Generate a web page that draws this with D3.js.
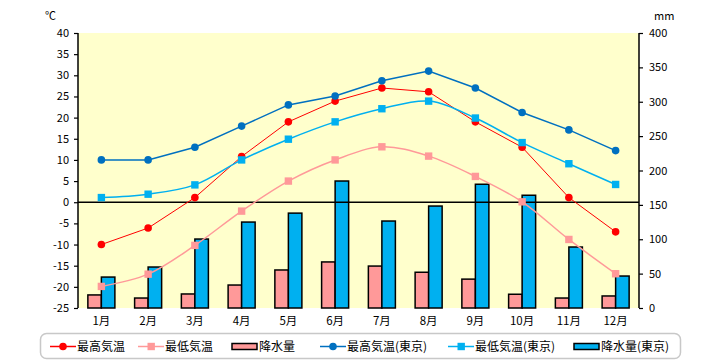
<!DOCTYPE html>
<html><head><meta charset="utf-8">
<script src="https://cdn.jsdelivr.net/npm/d3@7"></script>
<style>
body{margin:0;background:#fff;}
svg{display:block;font-family:"Noto Sans CJK JP","Noto Sans",sans-serif;}
</style></head>
<body><svg id="c" width="720" height="360"></svg>
<script>
const months = ["1月","2月","3月","4月","5月","6月","7月","8月","9月","10月","11月","12月"];
const maxTemp = [-10,-6.1,1.1,10.8,19,23.9,27,26.1,19,13,1.1,-7];
const minTemp = [-19.9,-17,-10.2,-2.1,5,10,13.1,10.9,6.1,0.1,-8.8,-16.9];
const precip = [19,14.5,20.4,33.4,55.3,67,61,52,42,20,14.5,17.5];
const maxTempTokyo = [10,10,13,18,23,25.1,28.7,31,27,21.2,17.1,12.2];
const minTempTokyo = [1.1,1.9,4.1,10,14.9,19,22.1,23.9,19.9,14.1,9.1,4.2];
const precipTokyo = [45,59.6,100.3,125,138,184.7,126.5,148.3,180,164,88.7,46.5];
const tempTicks = [-25,-20,-15,-10,-5,0,5,10,15,20,25,30,35,40];
const precipTicks = [0,50,100,150,200,250,300,350,400];
const legendLabels = ["最高気温","最低気温","降水量","最高気温(東京)","最低気温(東京)","降水量(東京)"];

const svg = d3.select("#c");
const L=78, R=639, T=33, B=308;
const x = d3.scaleBand().domain(months).range([L,R]);
const xs = d3.scaleBand().domain(["a","b"]).range([0,x.bandwidth()]).paddingInner(0).paddingOuter(0.73);
const yT = d3.scaleLinear().domain([-25,40]).range([B,T]);
const yP = d3.scaleLinear().domain([0,400]).range([B,T]);

svg.append("rect").attr("x",L).attr("y",T).attr("width",R-L).attr("height",B-T).attr("fill","#FFFFCC");

// bars
const barData = [{v:precip,fill:"#FF9999",k:"a"},{v:precipTokyo,fill:"#00B0F0",k:"b"}];
barData.forEach(s=>{
  svg.append("g").selectAll("rect").data(months).join("rect")
    .attr("x",m=>x(m)+xs(s.k)).attr("width",xs.bandwidth())
    .attr("y",(m,i)=>yP(s.v[i])).attr("height",(m,i)=>B-yP(s.v[i]))
    .attr("fill",s.fill).attr("stroke","#000").attr("stroke-width",1.5);
});

// zero line
svg.append("line").attr("x1",L).attr("x2",R).attr("y1",yT(0)).attr("y2",yT(0)).attr("stroke","#000").attr("stroke-width",1.5);

// axes
const axL = svg.append("g").attr("transform",`translate(${L},0)`)
  .call(d3.axisLeft(yT).tickValues(tempTicks).tickSize(4).tickFormat(d=>String(d)));
const axR = svg.append("g").attr("transform",`translate(${R},0)`)
  .call(d3.axisRight(yP).tickValues(precipTicks).tickSize(4).tickFormat(d=>String(d)));
[axL,axR].forEach(a=>{
  a.select(".domain").attr("stroke","#000").attr("stroke-width",1.5).attr("d", a===axL?`M0,${T}V${B}`:`M0,${T}V${B}`);
  a.selectAll(".tick line").attr("stroke","#000").attr("stroke-width",1.2);
  a.selectAll("text").attr("font-size",11).attr("fill","#000").attr("font-family","'Noto Sans CJK JP',sans-serif");
});
axL.selectAll("text").attr("x",-9);
axR.selectAll("text").attr("x",10);

// month labels
svg.append("g").selectAll("text").data(months).join("text")
  .attr("x",m=>x(m)+x.bandwidth()/2).attr("y",325).attr("text-anchor","middle")
  .attr("font-size",11.5).text(m=>m);

svg.append("text").attr("x",45).attr("y",20).attr("font-size",11).text("℃");
svg.append("text").attr("x",654).attr("y",20).attr("font-size",11).text("mm");

// lines
const cx = m=>x(m)+x.bandwidth()/2;
const series = [
  {v:maxTemp,color:"#FF0000",marker:"circle",curve:d3.curveLinear,w:1},
  {v:minTemp,color:"#FF9999",marker:"square",curve:d3.curveCatmullRom,w:1.5},
  {v:maxTempTokyo,color:"#0070C0",marker:"circle",curve:d3.curveLinear,w:1.5},
  {v:minTempTokyo,color:"#00B0F0",marker:"square",curve:d3.curveCatmullRom,w:1.5}
];
series.forEach(s=>{
  const line = d3.line().x((d,i)=>cx(months[i])).y(d=>yT(d)).curve(s.curve);
  svg.append("path").attr("d",line(s.v)).attr("fill","none").attr("stroke",s.color).attr("stroke-width",s.w);
});
series.forEach(s=>{
  const g = svg.append("g");
  if(s.marker==="circle"){
    g.selectAll("circle").data(s.v).join("circle").attr("cx",(d,i)=>cx(months[i])).attr("cy",d=>yT(d)).attr("r",3.8).attr("fill",s.color);
  } else {
    g.selectAll("rect").data(s.v).join("rect").attr("x",(d,i)=>cx(months[i])-3.7).attr("y",d=>yT(d)-3.7).attr("width",7.4).attr("height",7.4).attr("fill",s.color);
  }
});

// legend
svg.append("rect").attr("x",40.5).attr("y",333.5).attr("width",640).attr("height",25).attr("rx",6)
  .attr("fill","#fff").attr("stroke","#C8C8C8").attr("stroke-width",1.5);
const lx = [50,138,232,320,448,574];
const items = [
  {t:"line",color:"#FF0000",m:"circle"},
  {t:"line",color:"#FF9999",m:"square"},
  {t:"bar",color:"#FF9999"},
  {t:"line",color:"#0070C0",m:"circle"},
  {t:"line",color:"#00B0F0",m:"square"},
  {t:"bar",color:"#00B0F0"}
];
const ly = 346.5;
items.forEach((it,i)=>{
  const g = svg.append("g");
  const x0 = lx[i];
  if(it.t==="line"){
    g.append("line").attr("x1",x0).attr("x2",x0+26).attr("y1",ly).attr("y2",ly).attr("stroke",it.color).attr("stroke-width",1.5);
    if(it.m==="circle") g.append("circle").attr("cx",x0+13).attr("cy",ly).attr("r",3.8).attr("fill",it.color);
    else g.append("rect").attr("x",x0+9.5).attr("y",ly-3.7).attr("width",7.4).attr("height",7.4).attr("fill",it.color);
  } else {
    g.append("rect").attr("x",x0).attr("y",ly-3).attr("width",25).attr("height",6).attr("fill",it.color).attr("stroke","#000").attr("stroke-width",1.5);
  }
  g.append("text").attr("x",x0+27).attr("y",ly+4.5).attr("font-size",12).text(legendLabels[i]);
});
</script></body></html>
